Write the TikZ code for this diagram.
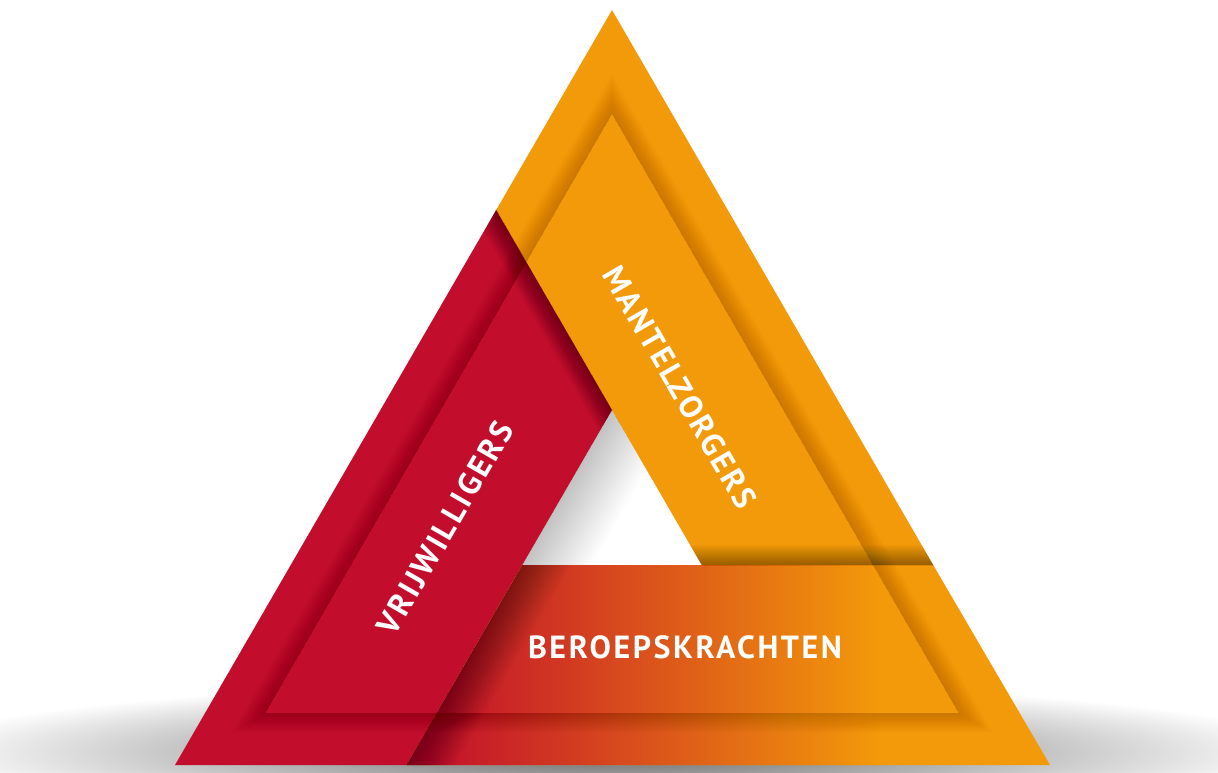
\documentclass[tikz,border=0pt]{standalone}
\usepackage{fontspec}
\newfontfamily\bandfont{PT Sans}[LetterSpace=8]
\usepackage{tikz}
\usetikzlibrary{calc}

\definecolor{vred}{RGB}{194,14,44}
\definecolor{vorange}{RGB}{243,154,10}
\definecolor{vmid}{RGB}{216,72,26}

\begin{document}
\begin{tikzpicture}[x=1pt, y=-1pt,
  every node/.style={font=\bandfont\bfseries\fontsize{32}{32}\selectfont, text=white, inner sep=0pt},
  cast/.style={draw=black, opacity=#1, line cap=butt},
  cast/.default=0.02
]
\useasboundingbox (0,0) rectangle (1218,773);

% Outer triangle
\coordinate (top) at (612,10);
\coordinate (bl) at (175,765);
\coordinate (br) at (1050,765);

% Hole in the middle
\coordinate (h1) at (612,410);
\coordinate (h2) at (522.3,565);
\coordinate (h3) at (701.7,565);

% Where the bands meet the outer edges
\coordinate (p) at (496.2,210);
\coordinate (q) at (933.2,565);
\coordinate (m) at (406.5,765);

% Raised inner triangle
\coordinate (itop) at (612,114);
\coordinate (ibl) at (265.3,713);
\coordinate (ibr) at (958.7,713);

% Shadow on the ground
\shade[inner color=black!60, outer color=white] (612,752) ellipse (700 and 70);

% Orange band
\fill[vorange] (top) -- (q) -- (h3) -- (p) -- cycle;

% Red band
\fill[vred] (p) -- (h1) -- (m) -- (bl) -- cycle;

% Bottom band, red to orange
\begin{scope}
  \clip (h2) -- (q) -- (br) -- (m) -- cycle;
  \fill[vorange] (400,560) rectangle (1060,770);
  \fill[vred] (400,560) rectangle (425,770);
  \shade[left color=vred, middle color=vmid, right color=vorange] (425,560) rectangle (880,770);
\end{scope}

% Shadow of the red band in the hole
\begin{scope}
  \clip (h1) -- (h2) -- (h3) -- cycle;
  \foreach \w in {4,8,...,120}
    \draw[cast=0.006, line width=\w pt] ($(h1)!-0.2!(h2)$) -- ($(h1)!1.2!(h2)$);
\end{scope}

% Orange band over red band
\begin{scope}
  \clip (p) -- (h1) -- (m) -- (bl) -- cycle;
  \foreach \w in {2,4,...,44}
    \draw[cast, line width=\w pt] ($(p)!-0.2!(h1)$) -- ($(p)!1.2!(h1)$);
\end{scope}

% Red band over bottom band
\begin{scope}
  \clip (h2) -- (q) -- (br) -- (m) -- cycle;
  \foreach \w in {4,8,...,84}
    \draw[cast, line width=\w pt] ($(h1)!-0.2!(m)$) -- ($(h1)!1.2!(m)$);
\end{scope}

% Bottom band over orange band
\begin{scope}
  \clip (top) -- (q) -- (h3) -- (p) -- cycle;
  \foreach \w in {2,4,...,40}
    \draw[cast, line width=\w pt] ($(h3)!-0.2!(q)$) -- ($(h3)!1.3!(q)$);
\end{scope}

% Raised inner triangle over the frame
\begin{scope}[even odd rule]
  \clip (top) -- (br) -- (bl) -- cycle (itop) -- (ibr) -- (ibl) -- cycle;
  \foreach \w in {2,4,...,40}
    \draw[cast=0.008, line width=\w pt, line join=miter] (itop) -- (ibr) -- (ibl) -- cycle;
\end{scope}

% Labels
\node[rotate=-60] (mantel) at (680,387) {MANTELZORGERS};
\node[rotate=60] (vrijw) at (445,528) {VRIJWILLIGERS};
\node (beroeps) at (685,647.5) {BEROEPSKRACHTEN};

\end{tikzpicture}
\end{document}
